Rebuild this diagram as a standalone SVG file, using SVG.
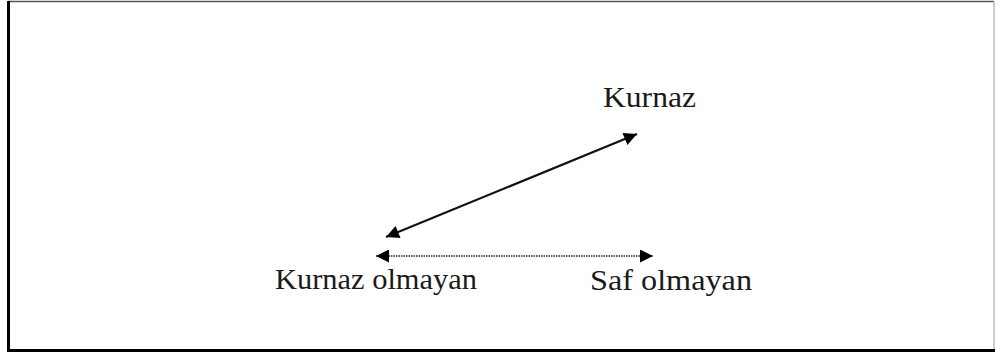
<svg xmlns="http://www.w3.org/2000/svg" width="1000" height="356" viewBox="0 0 1000 356">
<style>
.lbl{font-family:"Liberation Serif","Times New Roman",serif;font-size:30px;fill:#1a1a1a}
.ln{stroke:#111;stroke-width:2.2;fill:none}
.dot{stroke:#222;stroke-width:1.5;stroke-dasharray:1.5 1;fill:none}
</style>
<defs>
<marker id="ah2" viewBox="0 0 10 10" refX="10" refY="5" markerWidth="16" markerHeight="13" markerUnits="userSpaceOnUse" orient="auto-start-reverse">
<path d="M0,0 L10,5 L0,10 z" fill="#000"/>
</marker>
</defs>
<rect x="0" y="0" width="1000" height="356" fill="#fff"/>
<g id="frame">
<line x1="8" y1="1.5" x2="994" y2="1.5" stroke="#555" stroke-width="1.5"/>
<line x1="994" y1="1" x2="994" y2="351" stroke="#bbb" stroke-width="1.5"/>
<line x1="8.5" y1="1" x2="8.5" y2="352" stroke="#000" stroke-width="3"/>
<line x1="7" y1="350.5" x2="995" y2="350.5" stroke="#000" stroke-width="3"/>
</g>
<g id="connectors">
<line class="ln" x1="386" y1="237" x2="637" y2="134" marker-start="url(#ah2)" marker-end="url(#ah2)"/>
<line class="dot" x1="376" y1="256" x2="653" y2="256" marker-start="url(#ah2)" marker-end="url(#ah2)"/>
</g>
<g id="node-kurnaz"><text class="lbl" x="603" y="107" textLength="93" lengthAdjust="spacingAndGlyphs">Kurnaz</text></g>
<g id="node-kurnaz-olmayan"><text class="lbl" x="275" y="289" textLength="202" lengthAdjust="spacingAndGlyphs">Kurnaz olmayan</text></g>
<g id="node-saf-olmayan"><text class="lbl" x="590" y="290" textLength="162" lengthAdjust="spacingAndGlyphs">Saf olmayan</text></g>
</svg>
